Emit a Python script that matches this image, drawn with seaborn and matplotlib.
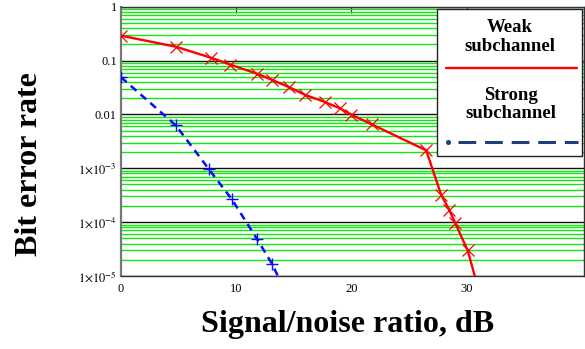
import numpy as np
import pandas as pd
import matplotlib
matplotlib.use("Agg")
import matplotlib.pyplot as plt
from matplotlib.patches import Rectangle
from matplotlib.ticker import FixedLocator, FixedFormatter, LogLocator
import seaborn as sns

# Weak subchannel (red, x markers)
weak_snr = [0.0, 4.8, 7.8, 9.5, 11.8, 13.1, 14.6, 16.0, 17.7, 19.0, 20.0, 21.8, 26.5, 27.8, 28.5, 29.0, 30.1, 31.3]
weak_ber = [0.29, 0.18, 0.113, 0.084, 0.057, 0.044, 0.032, 0.023, 0.017, 0.013, 0.0099, 0.0065, 0.00215,
            3.2e-4, 1.7e-4, 9.8e-5, 3.0e-5, 3.5e-6]

# Strong subchannel (blue, + markers)
strong_snr = [0.0, 4.75, 7.65, 9.6, 11.8, 13.1, 14.3]
strong_ber = [0.049, 0.0063, 9.5e-4, 2.7e-4, 4.9e-5, 1.7e-5, 5e-6]

x_ticks = [0, 10, 20, 30]
y_ticks = [1, 0.1, 0.01, 1e-3, 1e-4, 1e-5]
y_tick_labels = ["1", "0.1", "0.01", r"$1{\times}10^{-3}$", r"$1{\times}10^{-4}$", r"$1{\times}10^{-5}$"]

legend_labels = ["Weak\nsubchannel", "Strong\nsubchannel"]

sns.set_style("white")
plt.rcParams["font.family"] = ["Liberation Serif", "DejaVu Serif"]
plt.rcParams["mathtext.fontset"] = "stix"
for key in ["text.color", "axes.labelcolor", "xtick.color", "ytick.color"]:
    plt.rcParams[key] = "black"

fig = plt.figure(figsize=(5.85, 3.49), dpi=100)
ax = fig.add_axes([121 / 585, 73 / 349, 463 / 585, 269.3 / 349])

weak = pd.DataFrame({"snr": weak_snr, "ber": weak_ber})
strong = pd.DataFrame({"snr": strong_snr, "ber": strong_ber})

sns.lineplot(data=weak, x="snr", y="ber", ax=ax, sort=False, color="red", lw=1.7,
             marker="x", markersize=8.5, markeredgewidth=0.9, markeredgecolor="red", zorder=5)
sns.lineplot(data=strong, x="snr", y="ber", ax=ax, sort=False, color="#0a0aff", lw=1.8,
             linestyle=(0, (3, 2.2)), marker="+", markersize=9, markeredgewidth=1.0,
             markeredgecolor="#0a0aff", zorder=5)

ax.set_yscale("log")
ax.set_ylim(1e-5, 1)
ax.set_xlim(0, 40.2)

ax.yaxis.set_major_locator(FixedLocator(y_ticks))
ax.yaxis.set_major_formatter(FixedFormatter(y_tick_labels))
ax.yaxis.set_minor_locator(LogLocator(base=10, subs=np.arange(2, 10), numticks=20))
ax.xaxis.set_major_locator(FixedLocator(x_ticks))

ax.grid(which="minor", axis="y", color="#10e810", lw=1.0)
ax.grid(which="major", axis="y", color="#111111", lw=1.0)
ax.grid(False, axis="x")
ax.set_axisbelow(True)

ax.tick_params(axis="x", which="major", direction="in", top=True, length=4, width=0.8,
               labelsize=9, pad=5, color="#222222")
ax.tick_params(axis="y", which="both", length=0, labelsize=9, pad=3)
ax.tick_params(axis="y", which="minor", left=False)
for s in ax.spines.values():
    s.set_color("#333333")
    s.set_linewidth(1.0)
ax.spines["left"].set_color("#777777")
ax.spines["left"].set_linewidth(1.6)

ax.set_xlabel("Signal/noise ratio, dB", fontsize=23, fontweight="bold")
ax.set_ylabel("Bit error rate", fontsize=23, fontweight="bold")
ax.xaxis.set_label_coords(0.49, -0.125)
ax.yaxis.set_label_coords(-0.166, 0.415)

# legend box drawn in axes coordinates (text above each sample line)
ax.add_patch(Rectangle((0.683, 0.445), 0.313, 0.545, transform=ax.transAxes,
                       facecolor="white", edgecolor="#222222", lw=1.0, zorder=10))
ax.text(0.84, 0.888, legend_labels[0], transform=ax.transAxes, ha="center", va="center",
        fontsize=13.5, fontweight="bold", linespacing=1.1, zorder=11)
ax.plot([0.703, 0.984], [0.771, 0.771], transform=ax.transAxes,
        color="red", lw=1.7, zorder=11)
ax.text(0.842, 0.638, legend_labels[1], transform=ax.transAxes, ha="center", va="center",
        fontsize=13.5, fontweight="bold", linespacing=1.1, zorder=11)
navy = "#1f3f7a"
ax.plot([0.707], [0.499], transform=ax.transAxes, ls="none",
        marker="o", markersize=2.6, color=navy, zorder=11)
ax.plot([0.728, 0.988], [0.499, 0.499], transform=ax.transAxes,
        color=navy, lw=2.2, dash_capstyle="butt", dashes=(5.8, 2.9), zorder=11)

fig.savefig("out.png", dpi=100)
